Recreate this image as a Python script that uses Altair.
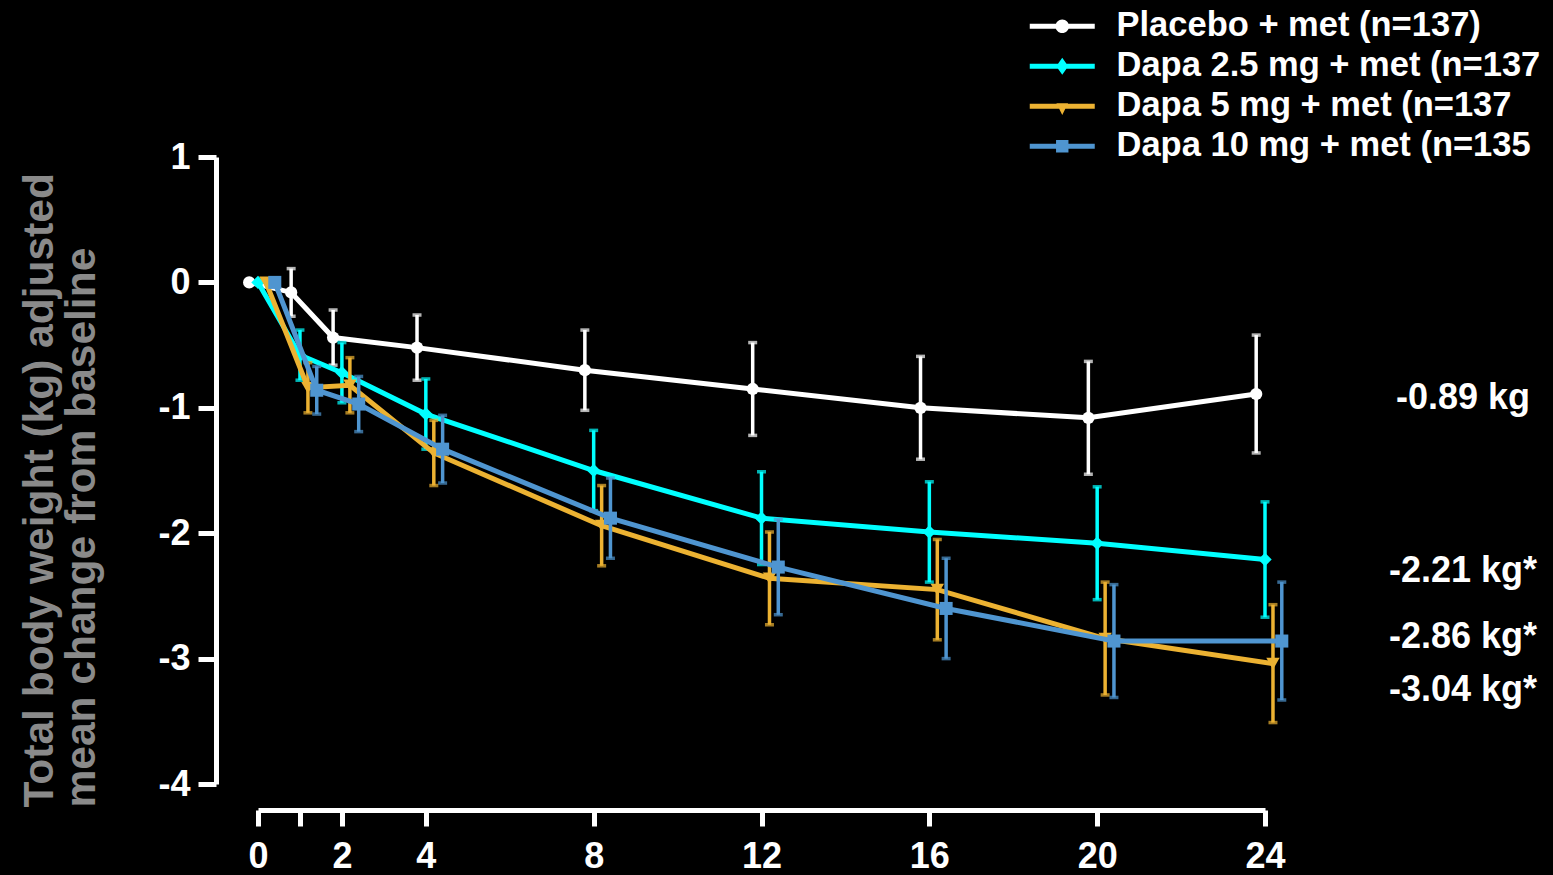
import altair as alt
import pandas as pd

# ---- data -------------------------------------------------------------
weeks = [0, 1, 2, 4, 8, 12, 16, 20, 24]
tick_weeks = [0, 1, 2, 4, 8, 12, 16, 20, 24]

series_names = [
    "Placebo + met (n=137)",
    "Dapa 2.5 mg + met (n=137",
    "Dapa 5 mg + met (n=137",
    "Dapa 10 mg + met (n=135",
]

placebo_mean = [0, -0.08, -0.44, -0.52, -0.70, -0.85, -1.00, -1.08, -0.89]
placebo_se = [0, 0.19, 0.22, 0.26, 0.32, 0.37, 0.41, 0.45, 0.47]

dapa25_mean = [0, -0.58, -0.72, -1.05, -1.50, -1.88, -1.99, -2.08, -2.21]
dapa25_se = [0, 0.20, 0.24, 0.28, 0.32, 0.37, 0.40, 0.45, 0.46]

dapa5_mean = [0, -0.84, -0.82, -1.36, -1.94, -2.36, -2.45, -2.84, -3.04]
dapa5_se = [0, 0.20, 0.22, 0.26, 0.32, 0.37, 0.40, 0.45, 0.47]

dapa10_mean = [0, -0.86, -0.97, -1.33, -1.88, -2.27, -2.60, -2.86, -2.86]
dapa10_se = [0, 0.19, 0.22, 0.27, 0.32, 0.38, 0.40, 0.45, 0.47]

end_labels = ["-0.89 kg", "-2.21 kg*", "-2.86 kg*", "-3.04 kg*"]
end_label_y = [-0.92, -2.30, -2.83, -3.25]

# ---- styling ----------------------------------------------------------
colors = ["#ffffff", "#00ffff", "#ecb232", "#4f95d0"]
shapes = ["circle", "diamond", "triangle-down", "square"]
marker_sizes = [150, 180, 180, 170]
dodge = [-0.21, 0.0, 0.19, 0.40]   # horizontal nudge (weeks) so bars don't overlap

# legend glyphs: a short line with the series marker on it
# (unit = 10 px at symbolSize 400, so the line is 65 px long)
bar = "M-3.25,-0.25 L3.25,-0.25 L3.25,0.25 L-3.25,0.25 Z "
legend_paths = [
    bar + "M-0.68,0 A0.68,0.68 0 1,1 0.68,0 A0.68,0.68 0 1,1 -0.68,0 Z",
    bar + "M0,-0.85 L0.6,0 L0,0.85 L-0.6,0 Z",
    bar + "M-0.58,-0.3 L0.58,-0.3 L0,0.88 Z",
    bar + "M-0.62,-0.62 L0.62,-0.62 L0.62,0.62 L-0.62,0.62 Z",
]

FONT = "Liberation Sans"

means = [placebo_mean, dapa25_mean, dapa5_mean, dapa10_mean]
ses = [placebo_se, dapa25_se, dapa5_se, dapa10_se]

x_scale = alt.Scale(domain=[0, 24], nice=False, zero=False)
y_scale = alt.Scale(domain=[-4, 1], nice=False, zero=False)

x_axis = alt.Axis(
    values=tick_weeks,
    labelExpr="datum.value == 1 ? '' : datum.label",
    labelFlush=False,
    labelOverlap=False,
    title=None,
    offset=26,
    tickSize=16,
    labelPadding=13,
    labelFontSize=36,
)
y_axis = alt.Axis(
    values=[-4, -3, -2, -1, 0, 1],
    labelExpr="replace(datum.label, '\u2212', '-')",
    labelFlush=False,
    labelOverlap=False,
    title=["Total body weight (kg) adjusted", "mean change from baseline"],
    offset=42,
    tickSize=18,
    labelPadding=8,
    labelFontSize=36,
    titleFont=FONT,
    titleFontSize=42.5,
    titleFontWeight="bold",
    titleColor="#8a8a8a",
    titleLineHeight=42,
    titleAngle=270,
    titleAlign="left",
    titleBaseline="alphabetic",
    titleX=-164,
    titleY=650,
)

layers = []
for i, name in enumerate(series_names):
    df = pd.DataFrame({"week": weeks, "mean": means[i], "se": ses[i]})
    df["xpos"] = df["week"] + dodge[i]
    df["lo"] = df["mean"] - df["se"]
    df["hi"] = df["mean"] + df["se"]
    bars = df[df["se"] > 0]
    col = colors[i]

    rules = alt.Chart(bars).mark_rule(color=col, strokeWidth=3.5).encode(
        x=alt.X("xpos:Q", scale=x_scale, axis=x_axis),
        y=alt.Y("lo:Q", scale=y_scale, axis=y_axis),
        y2="hi:Q",
    )
    caps = (
        alt.Chart(bars)
        .transform_fold(["lo", "hi"], as_=["end", "cap"])
        .mark_tick(color=col, thickness=3.5, size=9, orient="horizontal")
        .encode(
            x=alt.X("xpos:Q", scale=x_scale, axis=x_axis),
            y=alt.Y("cap:Q", scale=y_scale, axis=y_axis),
        )
    )
    line = alt.Chart(df).mark_line(color=col, strokeWidth=5).encode(
        x=alt.X("xpos:Q", scale=x_scale, axis=x_axis),
        y=alt.Y("mean:Q", scale=y_scale, axis=y_axis),
    )
    pts = alt.Chart(df).mark_point(
        color=col, filled=True, opacity=1, shape=shapes[i], size=marker_sizes[i]
    ).encode(
        x=alt.X("xpos:Q", scale=x_scale, axis=x_axis),
        y=alt.Y("mean:Q", scale=y_scale, axis=y_axis),
    )
    layers += [rules, caps, line, pts]

# end-of-study values printed to the right of week 24
lab_df = pd.DataFrame({"xpos": [weeks[-1]] * len(end_labels), "label_y": end_label_y, "text": end_labels})
end_text = alt.Chart(lab_df).mark_text(
    font=FONT, fontSize=36, fontWeight="bold", color="white", align="center",
    baseline="middle", dx=198,
).encode(
    x=alt.X("xpos:Q", scale=x_scale, axis=x_axis),
    y=alt.Y("label_y:Q", scale=y_scale, axis=y_axis),
    text="text:N",
)
layers.append(end_text)

# legend carrier: no marks drawn, only the colour/shape legend
legend = alt.Legend(
    title=None,
    orient="none",
    legendX=787,
    legendY=-148,
    padding=0,
    labelFont=FONT,
    labelFontSize=34.5,
    labelFontWeight="bold",
    labelColor="white",
    labelLimit=0,
    labelOffset=37,
    symbolSize=400,
    symbolStrokeWidth=0,
    symbolOpacity=1,
    rowPadding=5,
)
legend_layer = (
    alt.Chart(pd.DataFrame({"series": series_names}))
    .transform_filter("false")
    .mark_point(filled=True, opacity=1)
    .encode(
        color=alt.Color("series:N", scale=alt.Scale(domain=series_names, range=colors), legend=legend),
        shape=alt.Shape("series:N", scale=alt.Scale(domain=series_names, range=legend_paths), legend=legend),
    )
)
layers.append(legend_layer)

chart = (
    alt.layer(*layers)
    .properties(
        width=1007,
        height=627,
        background="black",
        autosize=alt.AutoSizeParams(type="none"),
        padding={"left": 258, "top": 157, "right": 288, "bottom": 91},
    )
    .configure_view(stroke=None)
    .configure_axis(
        grid=False,
        domainColor="white",
        domainWidth=5,
        tickColor="white",
        tickWidth=5,
        labelColor="white",
        labelFont=FONT,
        labelFontWeight="bold",
    )
)

chart.save("out.html", embed_options={"renderer": "svg", "actions": False})
